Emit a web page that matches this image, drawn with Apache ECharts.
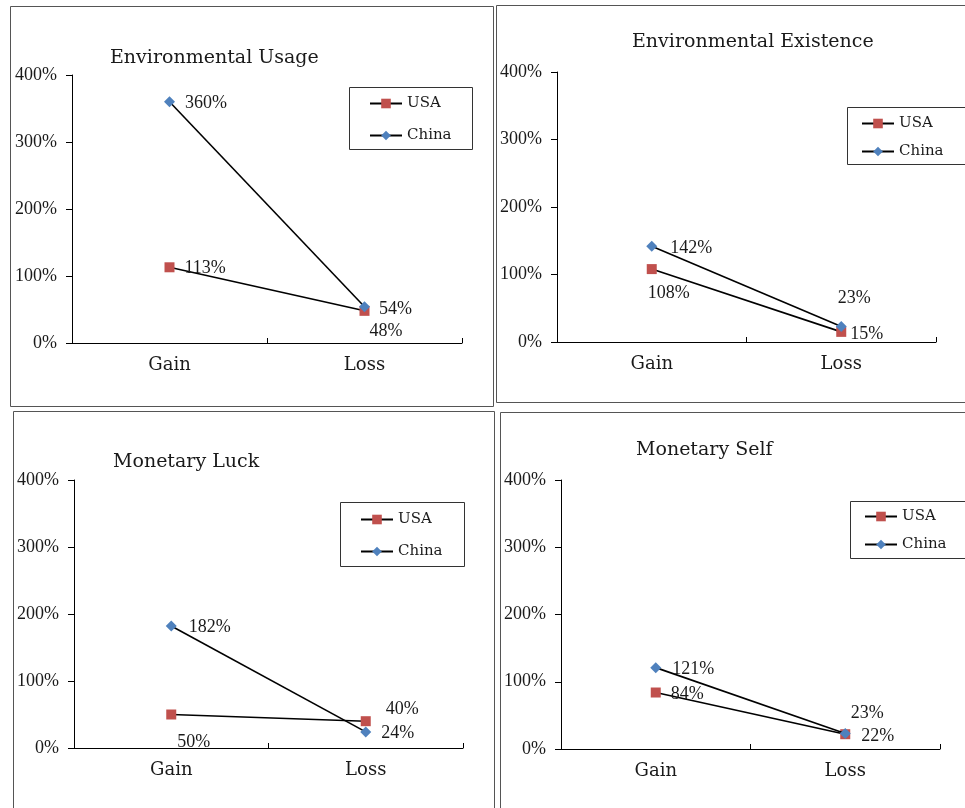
<!DOCTYPE html>
<html><head><meta charset="utf-8">
<script src="https://cdn.jsdelivr.net/npm/echarts@6/dist/echarts.min.js"></script>
<style>html,body{margin:0;padding:0;background:#fff}#c{width:965px;height:808px}</style>
</head><body><div id="c"></div>
<script>
// ---- data ----
const categories = ['Gain', 'Loss'];
const seriesNames = ['USA', 'China'];
const panelTitles = ['Environmental Usage', 'Environmental Existence', 'Monetary Luck', 'Monetary Self'];
const usaValues = [[113, 48], [108, 15], [50, 40], [84, 22]];
const chinaValues = [[360, 54], [142, 23], [182, 24], [121, 23]];
const yMin = 0, yMax = 400, yStep = 100;

// ---- layout (positions / styles only) ----
const grids = [
  {left: 72, top: 75, width: 390, height: 268},
  {left: 557, top: 72, width: 379, height: 270},
  {left: 74, top: 480, width: 389, height: 268},
  {left: 561, top: 480, width: 379, height: 269}
];
const panelBoxes = [[10, 6, 483, 400], [496, 5, 475, 397], [13, 411, 481, 400], [500, 412, 470, 400]];
const titlePos = [[110, 48], [632, 32], [113, 452], [636, 440]];
const legendBoxes = [[349, 87, 123, 62], [847, 107, 118, 57], [340, 502, 124, 64], [850, 501, 118, 57]];
const legendPos = [[369, 96, 17], [861, 116, 13], [360, 512, 17], [864, 509, 13]];
// label offsets [dx, dy] from the default 'right' position: [usa[gain,loss], china[gain,loss]]
const labelOffsets = [
  [[[5, 1], [-5, 20]], [[5, 1], [4, 2]]],
  [[[-14, 24], [-1, 2]], [[8, 2], [-14, -28]]],
  [[[-4, 28], [10, -12]], [[7, 1], [5, 1]]],
  [[[5, 2], [6, 2]], [[6, 2], [-5, -20]]]
];
const colors = {USA: '#C0504D', China: '#4F81BD'};
const numFont = 'Liberation Serif';
const wordFont = 'DejaVu Serif';
const textColor = '#1a1a1a';

const option = {
  animation: false,
  backgroundColor: '#fff',
  title: [], legend: [], grid: [], xAxis: [], yAxis: [], series: [],
  graphic: []
};

panelBoxes.forEach(b => option.graphic.push({
  type: 'rect', shape: {x: b[0] + 0.5, y: b[1] + 0.5, width: b[2], height: b[3]},
  style: {fill: 'none', stroke: '#555', lineWidth: 1}, silent: true
}));
legendBoxes.forEach(b => option.graphic.push({
  type: 'rect', shape: {x: b[0] + 0.5, y: b[1] + 0.5, width: b[2], height: b[3]},
  style: {fill: '#fff', stroke: '#333', lineWidth: 1}, silent: true, z: 0
}));

for (let p = 0; p < 4; p++) {
  option.title.push({
    text: panelTitles[p], left: titlePos[p][0], top: titlePos[p][1], padding: 0,
    textStyle: {fontFamily: wordFont, fontSize: 19, fontWeight: 'normal', color: textColor, lineHeight: 20}
  });
  option.legend.push({
    data: seriesNames, orient: 'vertical', left: legendPos[p][0], top: legendPos[p][1],
    padding: 0, itemWidth: 32, itemHeight: 12, itemGap: legendPos[p][2], z: 5,
    textStyle: {fontFamily: wordFont, fontSize: 15, color: textColor, lineHeight: 14}
  });
  option.grid.push(Object.assign({containLabel: false}, grids[p]));
  option.xAxis.push({
    type: 'category', data: categories, gridIndex: p, boundaryGap: true,
    axisLine: {lineStyle: {color: '#000', width: 1}},
    axisTick: {show: true, inside: true, length: 5, interval: 0, lineStyle: {color: '#000'}},
    axisLabel: {fontFamily: wordFont, fontSize: 18, color: textColor, margin: 13},
    splitLine: {show: false}
  });
  option.yAxis.push({
    type: 'value', gridIndex: p, min: yMin, max: yMax, interval: yStep,
    axisLine: {show: true, lineStyle: {color: '#000', width: 1}},
    axisTick: {show: true, length: 6, lineStyle: {color: '#000'}},
    axisLabel: {fontFamily: numFont, fontSize: 18, color: textColor, margin: 15, formatter: '{value}%'},
    splitLine: {show: false}
  });
  [usaValues[p], chinaValues[p]].forEach((vals, s) => {
    const name = seriesNames[s];
    option.series.push({
      name: name, type: 'line', xAxisIndex: p, yAxisIndex: p,
      symbol: s === 0 ? 'rect' : 'diamond', symbolSize: s === 0 ? 10 : 11,
      itemStyle: {color: colors[name]},
      lineStyle: {color: '#000', width: 1.6},
      z: 2 + s,
      data: vals.map((v, i) => ({
        value: v,
        label: {show: true, position: 'right', distance: 5, offset: labelOffsets[p][s][i],
          formatter: '{c}%', fontFamily: numFont, fontSize: 18, color: textColor}
      }))
    });
  });
}

const chart = echarts.init(document.getElementById('c'), null, {renderer: 'canvas'});
chart.setOption(option);
</script></body></html>
